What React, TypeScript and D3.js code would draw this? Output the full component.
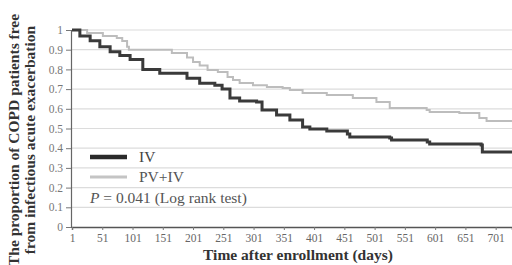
import React, { useEffect, useRef } from "react";
import * as d3 from "d3";

// Kaplan-Meier estimates (day, proportion)
const ivDays = [1, 14, 31, 47, 64, 80, 97, 118, 146, 191, 212, 237, 249, 262, 278, 306, 315, 339, 361, 382, 394, 422, 456, 460, 526, 529, 588, 592, 677, 679, 728];
const ivValues = [1.0, 0.97, 0.945, 0.915, 0.89, 0.87, 0.85, 0.8, 0.78, 0.755, 0.73, 0.72, 0.7, 0.655, 0.64, 0.635, 0.594, 0.569, 0.543, 0.508, 0.497, 0.487, 0.472, 0.457, 0.452, 0.442, 0.431, 0.421, 0.416, 0.381, 0.381];

const pvDays = [1, 18, 26, 52, 75, 84, 92, 95, 166, 191, 201, 212, 225, 242, 258, 267, 278, 300, 323, 349, 361, 382, 422, 465, 504, 526, 587, 592, 641, 674, 686, 728];
const pvValues = [1.0, 1.0, 0.985, 0.97, 0.96, 0.944, 0.915, 0.9, 0.883, 0.86, 0.837, 0.82, 0.797, 0.787, 0.761, 0.746, 0.731, 0.72, 0.711, 0.706, 0.695, 0.68, 0.67, 0.655, 0.635, 0.604, 0.594, 0.584, 0.579, 0.553, 0.538, 0.533];

const xTicks = [1, 51, 101, 151, 201, 251, 301, 351, 401, 451, 501, 551, 601, 651, 701];
const yTicks = [0, 0.1, 0.2, 0.3, 0.4, 0.5, 0.6, 0.7, 0.8, 0.9, 1];

const W = 512;
const H = 265;
const FONT = "'Liberation Serif', 'Times New Roman', serif";

const App: React.FC = () => {
  const ref = useRef<SVGSVGElement | null>(null);

  useEffect(() => {
    if (!ref.current) return;
    const svg = d3.select(ref.current);
    svg.selectAll("*").remove();

    const x = d3.scaleLinear().domain([1, 728]).range([72, 512]);
    const y = d3.scaleLinear().domain([0, 1]).range([227, 30]);

    svg.append("rect").attr("width", W).attr("height", H).attr("fill", "#fff");

    // gridlines
    svg
      .append("g")
      .selectAll("line")
      .data(yTicks.filter((d) => d > 0))
      .join("line")
      .attr("x1", x(1))
      .attr("x2", W)
      .attr("y1", (d) => y(d))
      .attr("y2", (d) => y(d))
      .attr("stroke", "#dcdcdc")
      .attr("stroke-width", 1.2);

    // y axis
    const yAxis = d3
      .axisLeft(y)
      .tickValues(yTicks)
      .tickSize(5)
      .tickFormat((d) => (d === 0 ? "0" : d === 1 ? "1" : d3.format(".1f")(d as number)));
    const gy = svg.append("g").attr("transform", `translate(${x(1) - 1},0)`).call(yAxis);
    gy.select(".domain").attr("stroke", "#666").attr("stroke-width", 1.2);
    gy.selectAll(".tick line").attr("stroke", "#777");
    gy.selectAll("text")
      .attr("x", -8)
      .style("font-family", FONT)
      .style("font-size", "11.5px")
      .attr("fill", "#777");

    // x axis
    const xAxis = d3.axisBottom(x).tickValues(xTicks).tickSize(3).tickFormat((d) => `${d}`);
    const gx = svg.append("g").attr("transform", `translate(0,${y(0)})`).call(xAxis);
    gx.select(".domain").attr("stroke", "#555").attr("stroke-width", 1.4);
    gx.selectAll(".tick line").attr("stroke", "#777");
    gx.selectAll("text")
      .attr("y", 7)
      .style("font-family", FONT)
      .style("font-size", "11.5px")
      .attr("fill", "#666");

    // survival curves
    const line = d3
      .line<[number, number]>()
      .x((d) => x(d[0]))
      .y((d) => y(d[1]))
      .curve(d3.curveStepAfter);

    const pvData = pvDays.map((d, i) => [d, pvValues[i]] as [number, number]);
    const ivData = ivDays.map((d, i) => [d, ivValues[i]] as [number, number]);

    svg.append("path")
      .attr("d", line(pvData))
      .attr("fill", "none")
      .attr("stroke", "#bdbdbd")
      .attr("stroke-width", 2);

    svg.append("path")
      .attr("d", line(ivData))
      .attr("fill", "none")
      .attr("stroke", "#3a3a3a")
      .attr("stroke-width", 3);

    // legend
    const lg = svg.append("g").style("font-family", FONT).style("font-size", "15.5px");
    lg.append("line").attr("x1", 90).attr("x2", 127).attr("y1", 157).attr("y2", 157)
      .attr("stroke", "#2a2a2a").attr("stroke-width", 4.5);
    lg.append("text").attr("x", 139).attr("y", 162).attr("fill", "#444").text("IV");
    lg.append("line").attr("x1", 90).attr("x2", 127).attr("y1", 177).attr("y2", 177)
      .attr("stroke", "#c4c4c4").attr("stroke-width", 3);
    lg.append("text").attr("x", 139).attr("y", 182).attr("fill", "#555").text("PV+IV");
    const pt = lg.append("text").attr("x", 90).attr("y", 203).attr("fill", "#555");
    pt.append("tspan").style("font-style", "italic").text("P");
    pt.append("tspan").text(" = 0.041  (Log rank test)");

    // axis titles
    svg.append("text")
      .attr("x", 298)
      .attr("y", 260)
      .attr("text-anchor", "middle")
      .style("font-family", FONT)
      .style("font-size", "15.5px")
      .style("font-weight", "bold")
      .attr("fill", "#333")
      .text("Time after enrollment (days)");

    const yt = svg.append("text")
      .attr("transform", "translate(19,140) rotate(-90)")
      .attr("text-anchor", "middle")
      .style("font-family", FONT)
      .style("font-size", "15.5px")
      .style("font-weight", "bold")
      .attr("fill", "#333");
    yt.append("tspan").attr("x", 0).attr("dy", 0).text("The proportion of COPD patients free");
    yt.append("tspan").attr("x", 0).attr("dy", 16).text("from infectious acute exacerbation");
  }, []);

  return <svg ref={ref} width={W} height={H} style={{ display: "block", position: "absolute", left: 0, top: 0 }} />;
};

export default App;
